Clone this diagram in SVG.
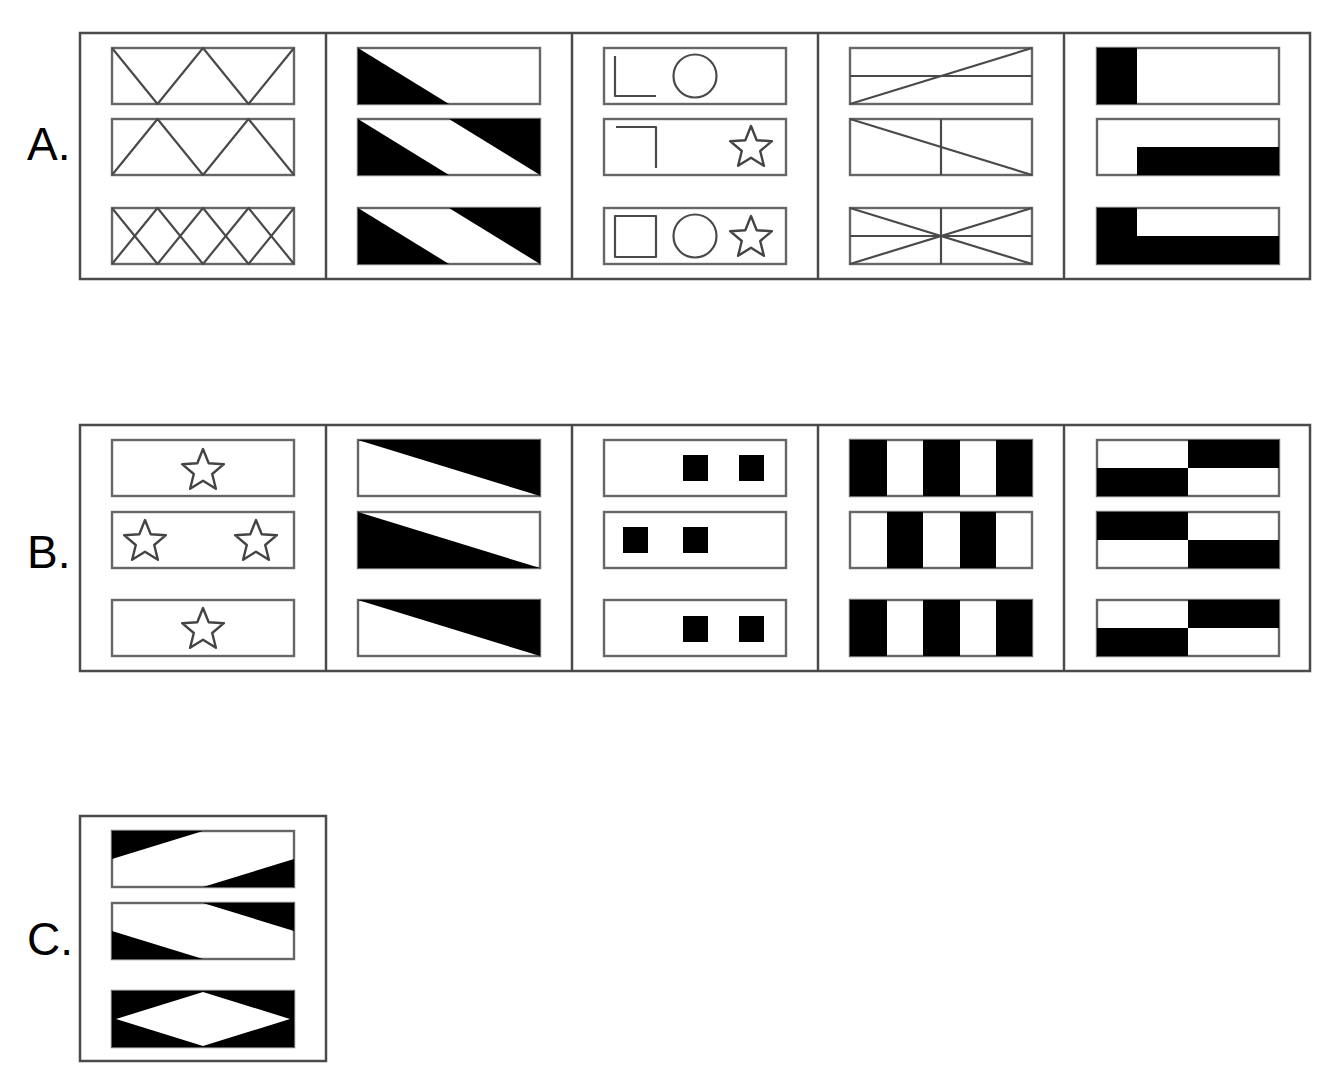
<svg xmlns="http://www.w3.org/2000/svg" xmlns:xlink="http://www.w3.org/1999/xlink" width="1330" height="1080" viewBox="0 0 1330 1080">
<style>
.frame{fill:none;stroke:#4a4a4a;stroke-width:2.5}
.box{fill:none;stroke:#666;stroke-width:2.4}
.ln{fill:none;stroke:#4a4a4a;stroke-width:2.2;stroke-linejoin:round}
.blk{fill:#000}
.wht{fill:#fff}
.star{fill:none;stroke:#444;stroke-width:2.4;stroke-linejoin:round}
.lbl{font-family:"Liberation Sans",Arial,sans-serif;font-size:46px;fill:#000}
</style>
<defs>
<path id="star" d="M0,-22 L5.7,-7.8 L20.9,-6.8 L9.2,3 L12.9,17.8 L0,9.7 L-12.9,17.8 L-9.2,3 L-20.9,-6.8 L-5.7,-7.8 Z"/>
</defs>
<rect width="1330" height="1080" fill="#fff"/>

<text class="lbl" x="27" y="160">A.</text>
<text class="lbl" x="27" y="568">B.</text>
<text class="lbl" x="27" y="955">C.</text>

<!-- Row A -->
<g id="rowA-frame">
<rect class="frame" x="80" y="33" width="1230" height="246"/>
<line class="frame" x1="326" y1="33" x2="326" y2="279"/>
<line class="frame" x1="572" y1="33" x2="572" y2="279"/>
<line class="frame" x1="818" y1="33" x2="818" y2="279"/>
<line class="frame" x1="1064" y1="33" x2="1064" y2="279"/>
</g>

<g id="A1">
<rect class="box" x="112" y="48" width="182" height="56"/>
<rect class="box" x="112" y="119" width="182" height="56"/>
<rect class="box" x="112" y="208" width="182" height="56"/>
<polyline class="ln" points="112,48 157.5,104 203,48 248.5,104 294,48"/>
<polyline class="ln" points="112,175 157.5,119 203,175 248.5,119 294,175"/>
<polyline class="ln" points="112,208 157.5,264 203,208 248.5,264 294,208"/>
<polyline class="ln" points="112,264 157.5,208 203,264 248.5,208 294,264"/>
</g>

<g id="A2">
<rect class="box" x="358" y="48" width="182" height="56"/>
<rect class="box" x="358" y="119" width="182" height="56"/>
<rect class="box" x="358" y="208" width="182" height="56"/>
<polygon class="blk" points="358,48 358,104 449,104"/>
<polygon class="blk" points="358,119 358,175 449,175"/>
<polygon class="blk" points="449,119 540,119 540,175"/>
<polygon class="blk" points="358,208 358,264 449,264"/>
<polygon class="blk" points="449,208 540,208 540,264"/>
</g>

<g id="A3">
<rect class="box" x="604" y="48" width="182" height="56"/>
<rect class="box" x="604" y="119" width="182" height="56"/>
<rect class="box" x="604" y="208" width="182" height="56"/>
<path class="ln" d="M615,56 V96 H656"/>
<circle class="ln" cx="695" cy="76" r="21.5"/>
<path class="ln" d="M616,127 H656 V168"/>
<use href="#star" xlink:href="#star" class="star" x="751" y="148"/>
<rect class="ln" x="615" y="216" width="41" height="41"/>
<circle class="ln" cx="695" cy="236" r="21.5"/>
<use href="#star" xlink:href="#star" class="star" x="751" y="238"/>
</g>

<g id="A4">
<rect class="box" x="850" y="48" width="182" height="56"/>
<rect class="box" x="850" y="119" width="182" height="56"/>
<rect class="box" x="850" y="208" width="182" height="56"/>
<line class="ln" x1="850" y1="76" x2="1032" y2="76"/>
<line class="ln" x1="850" y1="104" x2="1032" y2="48"/>
<line class="ln" x1="941" y1="119" x2="941" y2="175"/>
<line class="ln" x1="850" y1="119" x2="1032" y2="175"/>
<line class="ln" x1="850" y1="236" x2="1032" y2="236"/>
<line class="ln" x1="941" y1="208" x2="941" y2="264"/>
<line class="ln" x1="850" y1="208" x2="1032" y2="264"/>
<line class="ln" x1="850" y1="264" x2="1032" y2="208"/>
</g>

<g id="A5">
<rect class="box" x="1097" y="48" width="182" height="56"/>
<rect class="box" x="1097" y="119" width="182" height="56"/>
<rect class="box" x="1097" y="208" width="182" height="56"/>
<rect class="blk" x="1097" y="48" width="40" height="56"/>
<rect class="blk" x="1137" y="147" width="142" height="28"/>
<path class="blk" d="M1097,208 H1137 V236 H1279 V264 H1097 Z"/>
</g>

<!-- Row B -->
<g id="rowB-frame">
<rect class="frame" x="80" y="425" width="1230" height="246"/>
<line class="frame" x1="326" y1="425" x2="326" y2="671"/>
<line class="frame" x1="572" y1="425" x2="572" y2="671"/>
<line class="frame" x1="818" y1="425" x2="818" y2="671"/>
<line class="frame" x1="1064" y1="425" x2="1064" y2="671"/>
</g>

<g id="B1">
<rect class="box" x="112" y="440" width="182" height="56"/>
<rect class="box" x="112" y="512" width="182" height="56"/>
<rect class="box" x="112" y="600" width="182" height="56"/>
<use href="#star" xlink:href="#star" class="star" x="203" y="471"/>
<use href="#star" xlink:href="#star" class="star" x="145" y="542"/>
<use href="#star" xlink:href="#star" class="star" x="256" y="542"/>
<use href="#star" xlink:href="#star" class="star" x="203" y="630"/>
</g>

<g id="B2">
<rect class="box" x="358" y="440" width="182" height="56"/>
<rect class="box" x="358" y="512" width="182" height="56"/>
<rect class="box" x="358" y="600" width="182" height="56"/>
<polygon class="blk" points="358,440 540,440 540,496"/>
<polygon class="blk" points="358,512 358,568 540,568"/>
<polygon class="blk" points="358,600 540,600 540,656"/>
</g>

<g id="B3">
<rect class="box" x="604" y="440" width="182" height="56"/>
<rect class="box" x="604" y="512" width="182" height="56"/>
<rect class="box" x="604" y="600" width="182" height="56"/>
<rect class="blk" x="683" y="455" width="25" height="26"/>
<rect class="blk" x="739" y="455" width="25" height="26"/>
<rect class="blk" x="623" y="527" width="25" height="26"/>
<rect class="blk" x="683" y="527" width="25" height="26"/>
<rect class="blk" x="683" y="616" width="25" height="26"/>
<rect class="blk" x="739" y="616" width="25" height="26"/>
</g>

<g id="B4">
<rect class="box" x="850" y="440" width="182" height="56"/>
<rect class="box" x="850" y="512" width="182" height="56"/>
<rect class="box" x="850" y="600" width="182" height="56"/>
<rect class="blk" x="850" y="440" width="37" height="56"/>
<rect class="blk" x="923" y="440" width="37" height="56"/>
<rect class="blk" x="996" y="440" width="36" height="56"/>
<rect class="blk" x="887" y="512" width="36" height="56"/>
<rect class="blk" x="960" y="512" width="36" height="56"/>
<rect class="blk" x="850" y="600" width="37" height="56"/>
<rect class="blk" x="923" y="600" width="37" height="56"/>
<rect class="blk" x="996" y="600" width="36" height="56"/>
</g>

<g id="B5">
<rect class="box" x="1097" y="440" width="182" height="56"/>
<rect class="box" x="1097" y="512" width="182" height="56"/>
<rect class="box" x="1097" y="600" width="182" height="56"/>
<rect class="blk" x="1188" y="440" width="91" height="28"/>
<rect class="blk" x="1097" y="468" width="91" height="28"/>
<rect class="blk" x="1097" y="512" width="91" height="28"/>
<rect class="blk" x="1188" y="540" width="91" height="28"/>
<rect class="blk" x="1188" y="600" width="91" height="28"/>
<rect class="blk" x="1097" y="628" width="91" height="28"/>
</g>

<!-- Row C -->
<g id="C1">
<rect class="frame" x="80" y="816" width="246" height="245"/>
<rect class="box" x="112" y="831" width="182" height="56"/>
<rect class="box" x="112" y="903" width="182" height="56"/>
<rect class="box" x="112" y="991" width="182" height="56"/>
<polygon class="blk" points="112,831 203,831 112,859"/>
<polygon class="blk" points="203,887 294,887 294,859"/>
<polygon class="blk" points="203,903 294,903 294,931"/>
<polygon class="blk" points="112,931 112,959 203,959"/>
<rect class="blk" x="112" y="991" width="182" height="56"/>
<polygon class="wht" points="203,992 290,1019 203,1046 116,1019"/>
</g>
</svg>
